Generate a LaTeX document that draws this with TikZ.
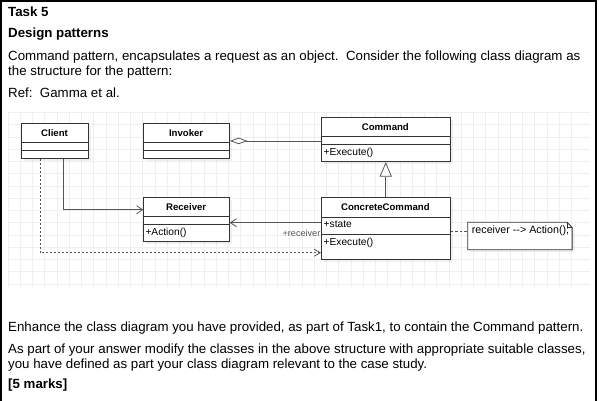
\documentclass[tikz,border=0pt]{standalone}
\usepackage{fontspec}
\setmainfont{Liberation Sans}
\usetikzlibrary{arrows.meta,shadows}
\definecolor{gridc}{HTML}{EFEFEF}
\definecolor{linec}{HTML}{555555}
\definecolor{boxc}{HTML}{333333}
\definecolor{labc}{HTML}{555555}
\begin{document}
\begin{tikzpicture}[x=1pt,y=-1pt,
  classbox/.style={draw=boxc, line width=0.8pt, fill=white, inner sep=0pt, anchor=north west,
     drop shadow={shadow xshift=2.5pt, shadow yshift=-2.5pt, opacity=0.12}},
  divider/.style={draw=boxc, line width=0.8pt},
  ctitle/.style={font=\fontsize{9.6}{11}\selectfont\bfseries, inner sep=0pt},
  cmember/.style={font=\fontsize{10.2}{12}\selectfont, inner sep=0pt, anchor=west},
  body/.style={font=\fontsize{13.3}{15}\selectfont, inner sep=0pt, anchor=base west},
  bodyb/.style={font=\fontsize{13.3}{15}\selectfont\bfseries, inner sep=0pt, anchor=base west},
  conn/.style={draw=linec, line width=0.8pt},
  assoc/.style={conn, -{Straight Barb[length=6pt,width=8pt]}},
  depend/.style={conn, dash pattern=on 2pt off 2pt, -{Straight Barb[length=6pt,width=7pt]}},
  notelink/.style={conn, dash pattern=on 2.5pt off 2pt},
  gen/.style={conn, -{Triangle[length=14.6pt,width=12.3pt,fill=white]}},
  aggr/.style={conn, {Diamond[length=17.7pt,width=6.5pt,fill=white]}-},
  gridline/.style={draw=gridc, line width=0.6pt}
]
\useasboundingbox (0,0) rectangle (599,400);

% frame
\draw[line width=1.6pt] (1,402) -- (1,1) -- (596,1) -- (596,402);

% top text
\node[bodyb] (t1) at (8,16.5) {Task 5};
\node[bodyb] (t2) at (8,37) {Design patterns};
\node[body] (t3) at (8,60) {Command pattern, encapsulates a request as an object.\ \ Consider the following class diagram as};
\node[body] (t4) at (8,75.5) {the structure for the pattern:};
\node[body] (t5) at (8,97) {Ref:\ \ Gamma et al.};

% bottom text
\node[body] (b1) at (8,331) {Enhance the class diagram you have provided, as part of Task1, to contain the Command pattern.};
\node[body] (b2) at (8,353) {As part of your answer modify the classes in the above structure with appropriate suitable classes,};
\node[body] (b3) at (8,368.5) {you have defined as part your class diagram relevant to the case study.};
\node[bodyb] (b4) at (8,388) {[5 marks]};

% grid
\foreach \i in {0,...,46} \draw[gridline] ({8+12.25*\i},112.5) -- ({8+12.25*\i},287);
\foreach \j in {0,...,14} \draw[gridline] (8,{112.5+12.25*\j}) -- (590,{112.5+12.25*\j});

% Client
\node[classbox, minimum width=67.6pt, minimum height=34.4pt] (client) at (20.7,123.3) {};
\draw[divider] (20.7,142.7) -- (88.3,142.7);
\draw[divider] (20.7,150.7) -- (88.3,150.7);
\node[ctitle] (clientt) at (54.5,133) {Client};

% Invoker
\node[classbox, minimum width=85.7pt, minimum height=34.4pt] (invoker) at (143.3,123.3) {};
\draw[divider] (143.3,142.7) -- (229,142.7);
\draw[divider] (143.3,150.7) -- (229,150.7);
\node[ctitle] (invokert) at (186.15,133) {Invoker};

% Command
\node[classbox, minimum width=128.7pt, minimum height=44pt] (command) at (321,117.3) {};
\draw[divider] (321,136.7) -- (449.7,136.7);
\draw[divider] (321,144.7) -- (449.7,144.7);
\node[ctitle] (commandt) at (385.35,127) {Command};
\node[cmember] (commandm) at (323.5,152.6) {+Execute()};

% Receiver
\node[classbox, minimum width=85.7pt, minimum height=44pt] (receiver) at (143.3,197.3) {};
\draw[divider] (143.3,216.7) -- (229,216.7);
\draw[divider] (143.3,224.7) -- (229,224.7);
\node[ctitle] (receivert) at (186.15,207) {Receiver};
\node[cmember] (receiverm) at (145.3,232.6) {+Action()};

% ConcreteCommand
\node[classbox, minimum width=128.7pt, minimum height=62pt] (cc) at (321,197.3) {};
\draw[divider] (321,217.3) -- (449.7,217.3);
\draw[divider] (321,234.3) -- (449.7,234.3);
\node[ctitle] (cct) at (385.35,207) {ConcreteCommand};
\node[cmember] (ccm1) at (323.5,224.6) {+state};
\node[cmember] (ccm2) at (323.5,242.6) {+Execute()};

% Note
\node[inner sep=0pt, minimum width=104pt, minimum height=27pt, anchor=north west] (note) at (467.7,222.3) {};
\draw[draw=boxc, line width=0.8pt, fill=white, drop shadow={shadow xshift=2.5pt, shadow yshift=-2.5pt, opacity=0.12}]
  (note.north west) -- ([xshift=-5pt]note.north east) -- ([yshift=-5pt]note.north east)
  -- (note.south east) -- (note.south west) -- cycle;
\draw[draw=boxc, line width=0.8pt] ([xshift=-5pt]note.north east) -- ([xshift=-5pt,yshift=-5pt]note.north east) -- ([yshift=-5pt]note.north east);
\node[font=\fontsize{10.7}{12}\selectfont, inner sep=0pt, anchor=west] (notet) at (471.7,230.9) {receiver {-}{-}> Action();};

% connectors
\draw[aggr] (invoker.east) -- (invoker.east -| command.west);
\draw[gen] (cc.north) -- (command.south);
\draw[assoc] ([xshift=8.8pt]client.south) |- ([yshift=-12.4pt]receiver.north west);
\draw[depend] ([xshift=-14.5pt]client.south) |- ([yshift=-55.4pt]cc.north west);
\draw[assoc] ([yshift=-25.4pt]cc.north west) -- ([yshift=-25.4pt]cc.north west -| receiver.east);
\node[font=\fontsize{9.1}{10}\selectfont, text=labc, inner sep=0pt, anchor=east] (reclab) at (320.5,233.5) {+receiver};
\draw[notelink] ([yshift=-34.4pt]cc.north east) -- ([yshift=-34.4pt]cc.north east -| note.west);
\end{tikzpicture}
\end{document}
